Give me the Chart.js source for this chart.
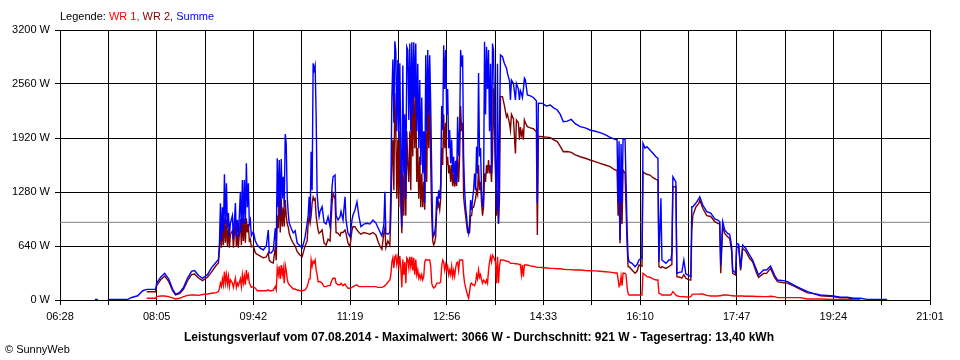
<!DOCTYPE html>
<html>
<head>
<meta charset="utf-8">
<script src="https://cdn.jsdelivr.net/npm/chart.js@4/dist/chart.umd.min.js"></script>
<style>
  body { margin: 0; background: #fff; }
  #wrap { position: relative; width: 960px; height: 360px; font-family: 'Liberation Sans', Arial, sans-serif; font-size: 11px; color: #000; }
  #chart { position: absolute; left: 0; top: 0; }
  #legende { position: absolute; left: 60px; top: 10px; white-space: nowrap; }
  #titel { position: absolute; left: 0; width: 958px; top: 330px; text-align: center; font-weight: bold; font-size: 12px; white-space: nowrap; }
  #fuss { position: absolute; left: 5px; top: 343px; white-space: nowrap; }
</style>
</head>
<body>
<div id="wrap">
  <canvas id="chart" width="960" height="360"></canvas>
  <div id="legende">Legende: <span style="color:#ff0000">WR 1,</span> <span style="color:#800000">WR 2,</span> <span style="color:#0000ff">Summe</span></div>
  <div id="titel">Leistungsverlauf vom 07.08.2014 - Maximalwert: 3066 W - Durchschnitt: 921 W - Tagesertrag: 13,40 kWh</div>
  <div id="fuss">© SunnyWeb</div>
</div>
<script>
// x-Achse: Beschriftung alle 97 Minuten, Gitter dazwischen
const zeitLabels = ['06:28', '08:05', '09:42', '11:19', '12:56', '14:33', '16:10', '17:47', '19:24', '21:01'];
const yTicks = [0, 640, 1280, 1920, 2560, 3200];
const durchschnitt = 921;

// Zeitpunkte in Minuten seit Mitternacht
const zeit = [
  423, 426, 429, 436, 456, 460, 466, 471,
  475, 484, 485, 489, 493, 497, 501, 504, 508, 512, 516, 520, 523, 527, 531, 536, 540, 545, 547,
  548, 549, 550, 551, 552, 553, 554, 555, 556, 557, 558, 559, 561, 562, 564, 565, 566, 567, 569, 570, 571, 572, 573, 574, 575, 576, 577, 578, 579, 580, 582,
  584, 586, 589, 592, 595, 597, 598, 600, 602, 604, 605,
  606, 607, 608, 609, 610, 611, 612, 613, 614, 615, 616, 617, 618, 620, 622, 624, 626, 629, 631,
  633, 634, 636, 637, 638, 639, 640, 641, 642, 643, 644, 645, 646, 647, 648, 649,
  651, 653, 655, 657, 659, 661, 662, 664, 665, 667, 669, 670, 672, 674, 675, 677, 679,
  681, 682, 684, 686, 688, 690, 693, 696, 699, 702, 705, 707, 709, 711, 713, 714, 715, 717, 719,
  720, 721, 722, 723, 724, 725, 726, 727, 728, 729, 730, 731, 732, 733, 734, 735, 736, 737, 738, 739,
  740, 741, 742, 743, 744, 745, 746, 747, 748, 749, 750, 751, 752, 753, 754, 755, 756, 757, 758, 759,
  760, 761, 762, 763, 764, 765, 766, 767, 768, 769, 770, 771, 772, 773, 774, 775, 776, 777, 778, 779,
  780, 781, 782, 783, 784, 785, 786, 787, 788, 789, 790, 791, 792, 793, 794, 795, 796, 797, 798, 799,
  800, 801, 802, 803, 804, 805, 806, 807, 808, 809, 810, 811, 812, 813, 814, 815, 816, 817, 818, 819,
  820, 821, 822, 823, 825, 826, 827, 828, 829, 830,
  832, 834, 836, 837, 839, 840, 841, 843, 845, 846, 848, 849, 850, 851, 852, 853, 854, 855, 857, 860,
  863, 866, 867, 868, 872, 876, 880, 883, 887, 890, 893, 897, 901, 905, 910, 915, 920, 925, 930, 935,
  940, 945,
  947, 948, 949, 950, 951, 952, 953, 955, 956, 957, 958, 959, 962, 965, 967, 969, 972, 973, 975, 977,
  980, 983, 986, 988, 989, 991, 992, 996, 999, 1001, 1002, 1003, 1006, 1007, 1010, 1012, 1014, 1016, 1019, 1021,
  1022,
  1023, 1026, 1029, 1030, 1033, 1037, 1041, 1045, 1048, 1050, 1051, 1053, 1055, 1058, 1060, 1062, 1063, 1066, 1067, 1069,
  1071, 1073, 1076, 1080, 1083, 1087, 1089, 1094, 1097, 1101, 1105, 1108, 1114, 1118, 1124, 1131, 1138, 1144, 1151, 1164,
  1171, 1178, 1184, 1191, 1198, 1218
];

const summe = [
  8, 8, null, 8, 8, 30, 50, 110,
  126, 126, 200, 270, 316, 250, 130, 67, 90, 150, 260, 340, 350, 290, 257, 300, 380, 454, 480,
  675, 1146, 700, 1100, 800, 1490, 900, 1383, 850, 1030, 760, 912, 1000, 720, 1150, 760, 950, 740, 1284, 800, 1422, 900, 1422, 900, 1620, 1100, 1383, 900, 948, 760, 809,
  700, 650, 615, 593, 640, 830, 557, 560, 590, 850, 600,
  1680, 1100, 1660, 1000, 1670, 1200, 1461, 1100, 1967, 1857, 1224, 1030, 912, 850, 794, 820, 675, 640, 616,
  700, 750, 908, 1000, 1224, 950, 1757, 1300, 2805, 2726, 2780, 2213, 1264, 1100, 987, 1050,
  1106, 920, 900, 987, 870, 1343, 1461, 1481, 1000, 948, 987, 1050, 948, 1224, 950, 790, 750,
  950, 1007, 1067, 1165, 987, 869, 900, 910, 900, 948, 912, 860, 809, 760, 900, 1284, 790, 780, 800,
  1300, 2400, 2850, 2100, 3066, 2950, 2000, 2844, 1900, 2805, 1800, 869, 2780, 1500, 2200, 1200, 3000, 2963, 2133, 3040,
  2000, 3054, 2200, 3054, 2400, 3040, 2000, 2800, 1800, 2607, 1600, 2400, 1500, 2000, 1150, 2900, 2000, 2963, 2200, 2900,
  2300, 1500, 830, 760, 800, 900, 1224, 1150, 1300, 1200, 1380, 2300, 2015, 3020, 2500, 2963, 2200, 2500, 1800, 2015,
  1620, 1900, 1500, 1698, 1400, 1650, 1383, 2172, 1700, 2015, 2963, 2765, 2900, 1700, 1300, 1100, 987, 850, 790, 900,
  1185, 1067, 1200, 1300, 1500, 1300, 1817, 1500, 2690, 1700, 1800, 1300, 1100, 1200, 3061, 2200, 3000, 2500, 2963, 2000,
  2800, 1500, 3040, 2963, 1600, 1067, 2800, 909, 2000, 2903,
  2883, 2800, 2750, 2686, 2600, 2370, 2607, 2567, 2370, 2567, 2500, 2370, 2480, 2450, 2400, 2500, 2630, 2607, 2430, 2420,
  2400, 2360, 1146, 2331, 2330, 2300, 2311, 2280, 2252, 2200, 2113, 2120, 2140, 2090, 2054, 2040, 2015, 2000, 1983, 1960,
  1928, 1904,
  1900, 1165, 1880, 711, 1850, 1146, 1908, 1908, 1400, 869, 513, 454, 434, 395, 420, 474, 500, 1857, 1800, 1817,
  1778, 1740, 1698, 1679, 454, 1205, 474, 434, 474, 474, 560, 1461, 1400, 316, 330, 330, 474, 310, 290, 280,
  1106,
  1106, 1146, 1200, 1224, 1126, 1047, 1030, 960, 948, 930, 415, 928, 830, 790, 780, 632, 355, 316, 672, 660,
  375, 650, 613, 533, 474, 355, 296, 355, 355, 403, 296, 237, 229, 217, 178, 138, 99, 79, 59, 47,
  32, 32, 20, 20, 8, 8
];

const wr2 = [
  null, null, null, null, null, null, null, null,
  98, 98, 170, 240, 284, 220, 110, 59, 75, 130, 230, 300, 308, 260, 230, 270, 330, 415, 440,
  600, 880, 620, 900, 650, 968, 680, 950, 640, 850, 620, 780, 820, 620, 940, 630, 780, 620, 960, 650, 968, 700, 960, 680, 968, 800, 900, 700, 720, 630, 640,
  560, 540, 520, 500, 510, 560, 470, 450, 440, 620, 470,
  1000, 850, 1300, 800, 1200, 870, 1100, 870, 1185, 1000, 900, 865, 790, 720, 675, 640, 573, 530, 513,
  600, 640, 700, 900, 987, 912, 1000, 1150, 1220, 1185, 1200, 1000, 900, 830, 790, 800,
  830, 675, 650, 720, 700, 1146, 1264, 1200, 800, 790, 760, 800, 800, 830, 790, 675, 632,
  830, 870, 869, 830, 800, 780, 800, 790, 780, 800, 770, 700, 640, 600, 800, 860, 620, 700, 650,
  1000, 1600, 1900, 1300, 2450, 2000, 1200, 1900, 1100, 2000, 1100, 790, 1500, 1000, 1800, 1000, 2000, 1600, 1400, 2000,
  1300, 2509, 1700, 2509, 1800, 2489, 1400, 1800, 1200, 1700, 1100, 1500, 1100, 1400, 1070, 2000, 1400, 2489, 1800, 2489,
  1600, 1000, 700, 652, 680, 750, 1067, 1100, 1150, 1070, 1200, 1800, 1600, 2200, 1800, 2100, 1600, 1698, 1500, 1600,
  1400, 1600, 1350, 1500, 1343, 1450, 1350, 1700, 1400, 1700, 2300, 2000, 2100, 1224, 1100, 1000, 900, 800, 790, 800,
  1000, 1000, 1100, 1100, 1150, 1200, 1300, 1250, 1600, 1300, 1400, 1150, 1000, 1100, 1500, 1400, 1600, 1500, 1659, 1500,
  1600, 1400, 1700, 2509, 1500, 1000, 1300, 900, 1200, 2410,
  2410, 2300, 2172, 2200, 2100, 2015, 2200, 2150, 1738, 2133, 2100, 1900, 2050, 1950, 2000, 1900, 2133, 2100, 2054, 2040,
  2030, 1995, 770, 1940, 1935, 1930, 1924, 1900, 1877, 1820, 1758, 1760, 1750, 1720, 1698, 1680, 1659, 1640, 1620, 1600,
  1580, 1541,
  1540, 1000, 1300, 672, 1300, 900, 1541, 1500, 1100, 680, 395, 395, 355, 316, 340, 415, 400, 1521, 1500, 1490,
  1481, 1450, 1430, 1422, 395, 380, 395, 375, 395, 415, 420, 1343, 1343, 277, 270, 260, 300, 257, 240, 237,
  830,
  1000, 1100, 1146, 1185, 1087, 1000, 990, 928, 909, 900, 316, 870, 790, 750, 730, 573, 316, 296, 632, 620,
  350, 610, 580, 494, 454, 316, 269, 316, 316, 375, 269, 217, 205, 200, 166, 126, 85, 75, 50, 40,
  25, 25, 12, 12, null, null
];

const wr1 = [
  null, null, null, null, null, null, null, null,
  20, 20, 40, 47, 47, 40, 25, 12, 20, 40, 55, 59, 60, 55, 65, 71, 80, 87, 100,
  138, 200, 160, 250, 180, 336, 200, 300, 190, 280, 160, 240, 200, 150, 260, 150, 200, 170, 250, 160, 300, 200, 280, 180, 355, 260, 300, 200, 180, 150, 158,
  140, 110, 110, 110, 110, 120, 110, 110, 115, 160, 120,
  375, 300, 400, 250, 415, 300, 380, 200, 415, 350, 250, 200, 180, 158, 130, 130, 118, 110, 110,
  115, 120, 160, 200, 250, 250, 474, 400, 460, 438, 474, 360, 300, 217, 217, 220,
  200, 158, 158, 170, 170, 240, 257, 257, 200, 180, 180, 200, 170, 190, 170, 140, 140,
  150, 158, 170, 178, 160, 158, 158, 158, 158, 158, 158, 150, 150, 150, 160, 170, 180, 210, 237,
  300, 450, 500, 380, 513, 530, 420, 500, 400, 520, 380, 150, 480, 300, 450, 200, 500, 480, 380, 513,
  400, 513, 350, 500, 300, 480, 300, 355, 260, 300, 250, 300, 240, 280, 450, 480, 474, 474, 474, 474,
  400, 200, 160, 142, 150, 170, 200, 200, 200, 200, 220, 400, 474, 450, 355, 420, 355, 400, 300, 355,
  300, 400, 280, 350, 280, 380, 438, 450, 350, 474, 474, 474, 474, 300, 200, 150, 100, 60, 20, 100,
  190, 200, 180, 180, 170, 200, 300, 250, 355, 270, 300, 237, 200, 237, 220, 200, 237, 200, 350, 450,
  513, 450, 533, 513, 450, 200, 513, 200, 400, 474,
  474, 470, 460, 460, 450, 434, 434, 434, 430, 430, 425, 420, 420, 300, 415, 277, 415, 415, 415, 405,
  400, 390, 387, 387, 385, 380, 375, 375, 370, 370, 365, 360, 360, 355, 355, 350, 347, 345, 340, 335,
  330, 320,
  320, 250, 160, 180, 280, 170, 320, 316, 300, 158, 80, 59, 59, 59, 59, 59, 59, 316, 300, 277,
  270, 250, 237, 237, 79, 70, 59, 59, 59, 59, 80, 99, 60, 50, 40, 40, 40, 35, 35, 40,
  60,
  70, 70, 70, 71, 71, 55, 47, 47, 47, 50, 50, 59, 59, 59, 55, 50, 50, 47, 47, 47,
  47, 47, 45, 45, 45, 42, 42, 40, 40, 45, 40, 28, 28, 28, 28, 28, 12, 12, 12, 6,
  6, 6, 0, 0, null, null
];

function minuten(s) {
  const teile = s.split(':');
  return parseInt(teile[0], 10) * 60 + parseInt(teile[1], 10);
}

function punkte(werte) {
  return zeit.map(function(t, i) { return { x: t, y: werte[i] }; });
}

const xMin = minuten(zeitLabels[0]);
const xMax = minuten(zeitLabels[zeitLabels.length - 1]);

const ctx = document.getElementById('chart').getContext('2d');
Chart.defaults.font.family = "'Liberation Sans', Arial, sans-serif";
Chart.defaults.font.size = 11;
Chart.defaults.color = '#000';

new Chart(ctx, {
  type: 'line',
  data: {
    datasets: [
      { label: 'WR 1', data: punkte(wr1), borderColor: '#ff0000', order: 0 },
      { label: 'WR 2', data: punkte(wr2), borderColor: '#800000', order: 2 },
      { label: 'Summe', data: punkte(summe), borderColor: '#0000ff', order: 1 },
      {
        label: 'Durchschnitt',
        data: [{ x: xMin, y: durchschnitt }, { x: xMax, y: durchschnitt }],
        borderColor: '#808080', borderWidth: 1, order: 3
      }
    ]
  },
  options: {
    responsive: false,
    animation: false,
    spanGaps: false,
    layout: { padding: { top: 30, right: 30, left: 0, bottom: 0 } },
    plugins: { legend: { display: false }, tooltip: { enabled: false } },
    elements: {
      point: { radius: 0 },
      line: { borderWidth: 1.4, tension: 0, fill: false }
    },
    scales: {
      x: {
        type: 'linear',
        min: xMin,
        max: xMax,
        afterBuildTicks: function(scale) {
          const werte = [];
          zeitLabels.forEach(function(l, i) {
            const m = minuten(l);
            werte.push({ value: m });
            if (i < zeitLabels.length - 1) {
              werte.push({ value: (m + minuten(zeitLabels[i + 1])) / 2 });
            }
          });
          scale.ticks = werte;
        },
        afterFit: function(scale) { scale.height = 60; },
        grid: { color: '#000', lineWidth: 1, tickLength: 5 },
        border: { color: '#000', width: 1 },
        ticks: {
          autoSkip: false,
          maxRotation: 0,
          padding: 5,
          callback: function(value, index) {
            return index % 2 === 0 ? zeitLabels[index / 2] : '';
          }
        }
      },
      y: {
        min: yTicks[0],
        max: yTicks[yTicks.length - 1],
        afterFit: function(scale) { scale.width = 60; },
        grid: { color: '#000', lineWidth: 1, tickLength: 5 },
        border: { color: '#000', width: 1 },
        ticks: {
          stepSize: yTicks[1] - yTicks[0],
          padding: 5,
          callback: function(value) { return value + ' W'; }
        }
      }
    }
  }
});
</script>
</body>
</html>
